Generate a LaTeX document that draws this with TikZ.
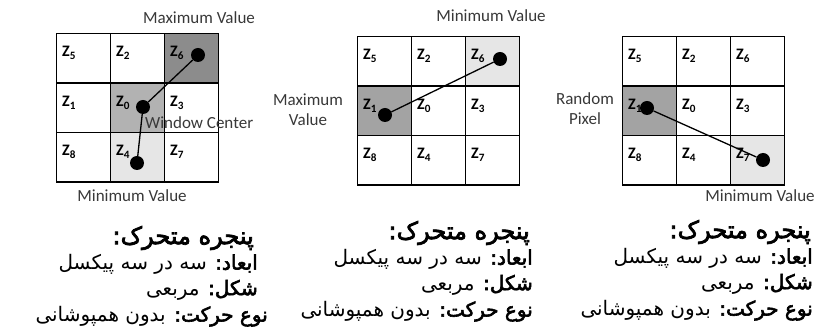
\documentclass[tikz,border=0pt]{standalone}
\usepackage{fontspec}
\setmainfont{Carlito}
\newfontfamily\arabicfont[Script=Arabic, BoldFont={DejaVu Sans}, BoldFeatures={FakeBold=3}]{DejaVu Sans}
\TeXXeTstate=1
\definecolor{zdark}{HTML}{8C8C8C}
\definecolor{zmid}{HTML}{B2B2B2}
\definecolor{zgray}{HTML}{A3A3A3}
\definecolor{zlight}{HTML}{E6E6E6}
\definecolor{lbltext}{HTML}{383838}
\tikzset{
  cell/.style={draw, line width=1.3pt, minimum width=54pt, minimum height=49.5pt,
    inner sep=0pt, anchor=north west},
  zlab/.style={anchor=base west, inner sep=0pt, font=\bfseries\fontsize{16}{16}\selectfont},
  dot/.style={circle, fill=black, minimum size=14pt, inner sep=0pt},
  link/.style={line width=1.3pt},
  lbl/.style={inner sep=0pt, text=lbltext, font=\fontsize{17}{20}\selectfont, align=center},
  fahead/.style={anchor=east, inner sep=0pt, font=\arabicfont\fontsize{24}{26}\selectfont},
  faline/.style={anchor=east, inner sep=0pt, font=\arabicfont\fontsize{20}{22}\selectfont},
  % shaded cells, grid-cell
  g1-6/.style={fill=zdark}, g1-0/.style={fill=zmid}, g1-4/.style={fill=zlight},
  g2-1/.style={fill=zgray}, g2-6/.style={fill=zlight},
  g3-1/.style={fill=zgray}, g3-7/.style={fill=zlight},
}
\begin{document}
\begin{tikzpicture}[x=1pt,y=-1pt]
  \useasboundingbox (0,0) rectangle (817,336);
  % the three 3x3 windows
  \foreach \g/\ox/\oy in {1/56/33, 2/357/36, 3/622/36} {
    \foreach \z/\c/\r in {5/0/0, 2/1/0, 6/2/0, 1/0/1, 0/1/1, 3/2/1, 8/0/2, 4/1/2, 7/2/2} {
      \node[cell, g\g-\z/.try] (c\g-\z) at ({\ox+\c*54},{\oy+\r*49.5}) {};
      \node[zlab] (z\g-\z) at ([shift={(6,24)}]c\g-\z.north west) {Z\textsubscript{\z}};
    }
  }
  % window 1
  \node[dot] (p1a) at (198,55) {};
  \node[dot] (p1b) at (143,107) {};
  \node[dot] (p1c) at (137,163) {};
  \draw[link] (p1a) -- (p1b) -- (p1c);
  \node[lbl] (max1) at (199,18) {Maximum Value};
  \node[lbl, anchor=west] (ctr1) at (145,123) {Window Center};
  \node[lbl] (min1) at (132,196) {Minimum Value};
  % window 2
  \node[dot] (p2a) at (500,59) {};
  \node[dot] (p2b) at (385,115) {};
  \draw[link] (p2a) -- (p2b);
  \node[lbl] (min2) at (491,16) {Minimum Value};
  \node[lbl] (max2) at (308,110) {Maximum\\Value};
  % window 3
  \node[dot] (p3a) at (647,108) {};
  \node[dot] (p3b) at (763,160) {};
  \draw[link] (p3a) -- (p3b);
  \node[lbl] (rnd3) at (585,109) {Random\\Pixel};
  \node[lbl] (min3) at (760,196) {Minimum Value};
  % captions under the windows
  \foreach \b/\xh/\xb/\xm/\yt in {1/254/258/268/238, 2/530/533/533/233, 3/811/813/813/232} {
    \node[fahead] (h\b) at (\xh,\yt) {\beginR\textbf{پنجره متحرک:}\endR};
    \node[faline] (s\b) at (\xb,\yt+26.5) {\beginR\textbf{ابعاد:} سه در سه پیکسل\endR};
    \node[faline] (f\b) at (\xb,\yt+52) {\beginR\textbf{شکل:} مربعی\endR};
    \node[faline] (m\b) at (\xm,\yt+78.5) {\beginR\textbf{نوع حرکت:} بدون همپوشانی\endR};
  }
\end{tikzpicture}
\end{document}
